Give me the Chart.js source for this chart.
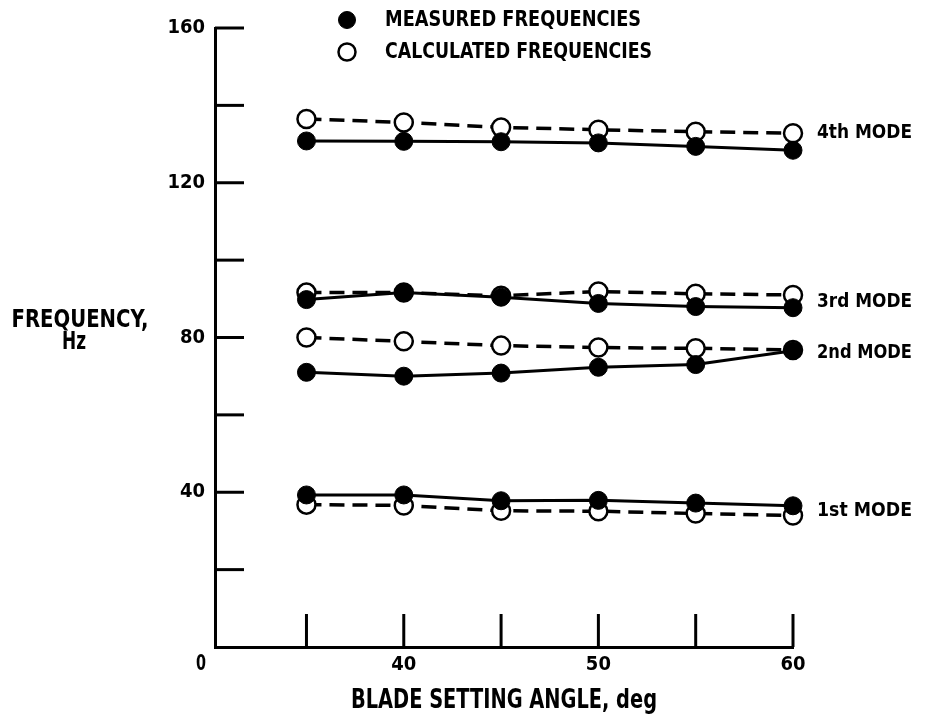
<!DOCTYPE html>
<html>
<head>
<meta charset="utf-8">
<style>
  html, body { margin: 0; padding: 0; background: #fff; }
  canvas { display: block; }
</style>
<script src="https://cdn.jsdelivr.net/npm/chart.js@4"></script>
</head>
<body>
<canvas id="chart" width="925" height="714"></canvas>
<script>
const angles = [35, 40, 45, 50, 55, 60];
const xTicks = [35, 40, 45, 50, 55, 60];
const yTicks = [0, 20, 40, 60, 80, 100, 120, 140, 160];

const measured1 = [39.3, 39.3, 37.8, 37.9, 37.2, 36.5];
const measured2 = [71.0, 70.0, 70.8, 72.3, 73.0, 76.6];
const measured3 = [89.8, 91.6, 90.4, 88.8, 88.0, 87.7];
const measured4 = [130.8, 130.7, 130.6, 130.3, 129.4, 128.4];

const calculated1 = [36.8, 36.6, 35.2, 35.1, 34.5, 34.0];
const calculated2 = [80.0, 79.0, 77.9, 77.4, 77.2, 76.8];
const calculated3 = [91.6, 91.6, 90.8, 91.9, 91.3, 91.0];
const calculated4 = [136.5, 135.6, 134.3, 133.7, 133.2, 132.8];

const modeNames = ['1st MODE', '2nd MODE', '3rd MODE', '4th MODE'];
const legendNames = ['MEASURED FREQUENCIES', 'CALCULATED FREQUENCIES'];

const FONT = '"Liberation Sans Narrow", "DejaVu Sans Condensed", sans-serif';

const measured = [measured1, measured2, measured3, measured4];
const calculated = [calculated1, calculated2, calculated3, calculated4];

const toPoints = (arr) => arr.map((v, i) => ({ x: angles[i], y: v }));

const measuredSets = measured.map((arr, i) => ({
    label: 'measured ' + modeNames[i],
    data: toPoints(arr),
    borderColor: '#000',
    backgroundColor: '#000',
    borderWidth: 3,
    pointRadius: 9,
    pointBorderWidth: 1,
    pointBackgroundColor: '#000',
    pointBorderColor: '#000',
}));

const calculatedSets = calculated.map((arr, i) => ({
    label: 'calculated ' + modeNames[i],
    data: toPoints(arr),
    borderColor: '#000',
    backgroundColor: '#fff',
    borderWidth: 3.5,
    borderDash: [15, 8],
    pointRadius: 9,
    pointBorderWidth: 2.5,
    pointBackgroundColor: '#fff',
    pointBorderColor: '#000',
}));

// squeeze text horizontally so it fits the width of the original lettering
const drawText = (ctx, text, x, y, size, maxW, align) => {
    ctx.save();
    ctx.font = 'bold ' + size + 'px ' + FONT;
    const w = ctx.measureText(text).width;
    const k = Math.min(1, maxW / w);
    ctx.translate(x, y);
    ctx.scale(k, 1);
    ctx.textAlign = align;
    ctx.textBaseline = 'middle';
    ctx.fillText(text, 0, 0);
    ctx.restore();
};

// label anchors in data units (frequency) at the right edge
const modeLabelAt = [35.3, 76.0, 89.2, 132.9];

const decorations = {
    id: 'decorations',
    afterDraw(chart) {
        const { ctx, scales: { x, y }, chartArea } = chart;
        ctx.save();
        ctx.strokeStyle = '#000';
        ctx.fillStyle = '#000';
        ctx.lineWidth = 3;

        // inward tick marks
        xTicks.forEach(v => {
            const px = x.getPixelForValue(v);
            ctx.beginPath();
            ctx.moveTo(px, chartArea.bottom);
            ctx.lineTo(px, chartArea.bottom - 33);
            ctx.stroke();
        });
        yTicks.filter(v => v !== 0).forEach(v => {
            const py = y.getPixelForValue(v);
            ctx.beginPath();
            ctx.moveTo(chartArea.left, py);
            ctx.lineTo(chartArea.left + 29, py);
            ctx.stroke();
        });

        drawText(ctx, '0', chartArea.left - 14, chartArea.bottom + 18, 21, 10, 'center');

        modeNames.forEach((name, i) => {
            drawText(ctx, name, chartArea.right + 24, y.getPixelForValue(modeLabelAt[i]), 20, 95, 'left');
        });

        drawText(ctx, 'FREQUENCY,', 80, 321, 24, 137, 'center');
        drawText(ctx, 'Hz', 74, 343, 24, 24, 'center');

        drawText(ctx, 'BLADE SETTING ANGLE, deg', (chartArea.left + chartArea.right) / 2, 701, 27, 306, 'center');

        // legend
        [measuredSets[0], calculatedSets[0]].forEach((ds, i) => {
            const cy = 20 + i * 32;
            ctx.beginPath();
            ctx.arc(347, cy, 8.5, 0, Math.PI * 2);
            ctx.fillStyle = ds.pointBackgroundColor;
            ctx.fill();
            ctx.lineWidth = ds.pointBorderWidth;
            ctx.strokeStyle = ds.pointBorderColor;
            ctx.stroke();
            ctx.fillStyle = '#000';
            drawText(ctx, legendNames[i], 385, cy, 22, i === 0 ? 256 : 267, 'left');
        });
        ctx.restore();
    }
};

new Chart(document.getElementById('chart'), {
    type: 'line',
    data: {
        datasets: [...measuredSets, ...calculatedSets]
    },
    options: {
        responsive: false,
        animation: false,
        devicePixelRatio: 1,
        clip: false,
        layout: {
            padding: { top: 28, right: 132, left: 0, bottom: 0 }
        },
        scales: {
            x: {
                type: 'linear',
                min: 30.3,
                max: 60,
                afterBuildTicks: (axis) => { axis.ticks = xTicks.map(v => ({ value: v })); },
                afterFit: (scale) => { scale.height = 67; },
                grid: { display: false, drawTicks: false },
                border: { display: true, color: '#000', width: 3 },
                ticks: {
                    color: '#000',
                    padding: 6,
                    maxRotation: 0,
                    autoSkip: false,
                    font: { family: FONT, size: 20, weight: 'bold' },
                    callback: (v) => (v % 10 === 0 ? v : '')
                }
            },
            y: {
                min: 0,
                max: 160,
                afterBuildTicks: (axis) => { axis.ticks = yTicks.map(v => ({ value: v })); },
                afterFit: (scale) => { scale.width = 215; },
                grid: { display: false, drawTicks: false },
                border: { display: true, color: '#000', width: 3 },
                ticks: {
                    color: '#000',
                    padding: 10,
                    autoSkip: false,
                    font: { family: FONT, size: 20, weight: 'bold' },
                    callback: (v) => (v % 40 === 0 && v !== 0 ? v : '')
                }
            }
        },
        plugins: {
            legend: { display: false },
            tooltip: { enabled: false }
        }
    },
    plugins: [decorations]
});
</script>
</body>
</html>
